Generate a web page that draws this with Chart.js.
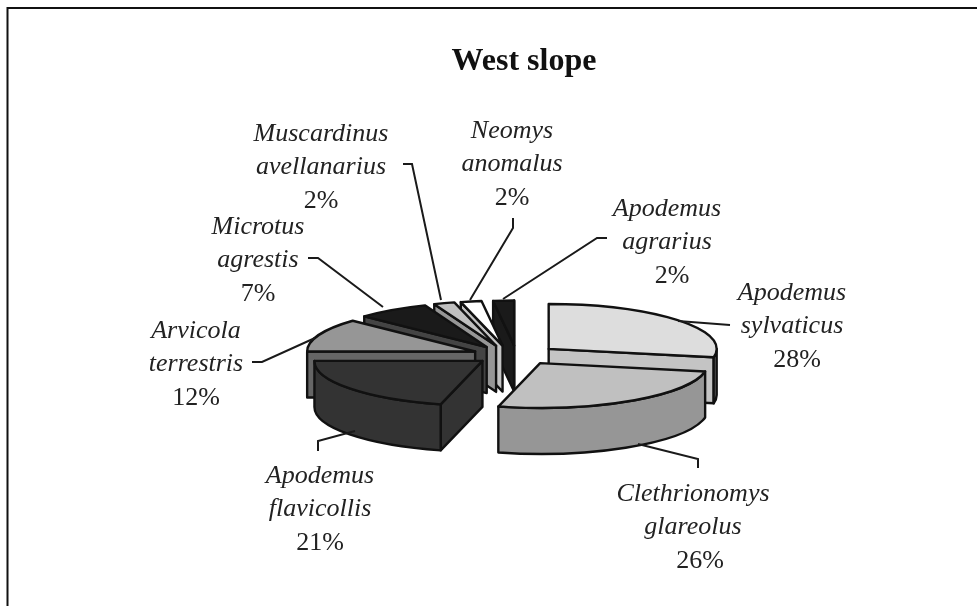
<!DOCTYPE html>
<html>
<head>
<meta charset="utf-8">
<title>West slope</title>
<script src="https://cdn.jsdelivr.net/npm/chart.js@4"></script>
<style>
html, body { margin: 0; padding: 0; background: #fff; overflow: hidden; }
canvas { display: block; filter: blur(0.4px); }
</style>
</head>
<body>
<canvas id="pie" width="977" height="606"></canvas>
<script>
const chartTitle = 'West slope';
const species = ['Apodemus sylvaticus', 'Clethrionomys glareolus', 'Apodemus flavicollis', 'Arvicola terrestris',
    'Microtus agrestis', 'Muscardinus avellanarius', 'Neomys anomalus', 'Apodemus agrarius'];
const shares = [28, 26, 21, 12, 7, 2, 2, 2];
const topColors = ['#dddddd', '#c0c0c0', '#333333', '#969696', '#1a1a1a', '#c0c0c0', '#ffffff', '#1a1a1a'];
const sideColors = ['#c4c4c4', '#969696', '#333333', '#666666', '#444444', '#969696', '#c4c4c4', '#1a1a1a'];
const wallColors = ['#7a7a7a', '#969696', '#333333', '#666666', '#444444', '#969696', '#c4c4c4', '#1a1a1a'];

// centre of each text block and the leader line that goes with it
const labelSpots = [[792, 293], [693, 494], [320, 476], [196, 331], [258, 227], [321, 134], [512, 131], [667, 209]];
const percentShift = [5, 7, 0, 0, 0, 0, 0, 5];
const leaders = [
    [[678, 321], [730, 325]],
    [[638, 444], [698, 459], [698, 468]],
    [[355, 431], [318, 441], [318, 451]],
    [[315, 338], [262, 362], [252, 362]],
    [[308, 258], [318, 258], [383, 307]],
    [[403, 164], [412, 164], [441, 300]],
    [[513, 218], [513, 228], [470, 300]],
    [[607, 238], [597, 238], [503, 299]]
];

const squash = 0.267;   // tilt of the pie
const depth = 46;       // thickness of the slices
const explodeX = 45;    // how far each slice is pulled out
const explodeY = 9.6;
const nudgeX = [-2, 0, 2, 1, -4, -6, -5, 1];   // the small back slices sit further left in the picture
const paintOrder = [7, 6, 5, 4, 3, 2, 0, 1];
const lineColor = '#111111';

function sliceGeometry(arc, i) {
    const mid = (arc.startAngle + arc.endAngle) / 2;
    return {
        x: arc.x + explodeX * Math.cos(mid) + nudgeX[i],
        y: arc.y + explodeY * Math.sin(mid),
        r: arc.outerRadius,
        start: arc.startAngle,
        end: arc.endAngle
    };
}

function fillStroke(ctx, color) {
    ctx.fillStyle = color;
    ctx.fill();
    ctx.stroke();
}

function drawCutFace(ctx, g, angle, color) {
    const rimX = g.x + g.r * Math.cos(angle);
    const rimY = g.y + g.r * squash * Math.sin(angle);
    ctx.beginPath();
    ctx.moveTo(g.x, g.y);
    ctx.lineTo(rimX, rimY);
    ctx.lineTo(rimX, rimY + depth);
    ctx.lineTo(g.x, g.y + depth);
    ctx.closePath();
    fillStroke(ctx, color);
}

function drawWall(ctx, g, color) {
    // only the part of the rim that faces the viewer
    const from = Math.max(g.start, 0);
    const to = Math.min(g.end, Math.PI);
    if (to <= from) return;
    ctx.beginPath();
    ctx.ellipse(g.x, g.y, g.r, g.r * squash, 0, from, to);
    ctx.ellipse(g.x, g.y + depth, g.r, g.r * squash, 0, to, from, true);
    ctx.closePath();
    fillStroke(ctx, color);
}

const tiltedSlices = {
    id: 'tiltedSlices',
    beforeDatasetDraw(chart) {
        const ctx = chart.ctx;
        const arcs = chart.getDatasetMeta(0).data;
        ctx.save();
        ctx.lineWidth = 2.4;
        ctx.lineJoin = 'round';
        ctx.strokeStyle = lineColor;
        paintOrder.forEach(i => {
            const arc = arcs[i];
            const g = sliceGeometry(arc, i);
            if (Math.cos(g.start) < 0) drawCutFace(ctx, g, g.start, sideColors[i]);
            if (Math.cos(g.end) > 0) drawCutFace(ctx, g, g.end, sideColors[i]);
            drawWall(ctx, g, wallColors[i]);

            // the library fills the top, flattened onto the tilted plane
            ctx.save();
            ctx.translate(g.x, g.y);
            ctx.scale(1, squash);
            ctx.translate(-arc.x, -arc.y);
            arc.draw(ctx);
            ctx.restore();

            ctx.beginPath();
            ctx.moveTo(g.x, g.y);
            ctx.ellipse(g.x, g.y, g.r, g.r * squash, 0, g.start, g.end);
            ctx.closePath();
            ctx.stroke();
        });
        ctx.restore();
        return false;
    }
};

const annotations = {
    id: 'annotations',
    afterDraw(chart) {
        const ctx = chart.ctx;
        ctx.save();

        // frame, open to the right and the bottom
        ctx.strokeStyle = lineColor;
        ctx.lineWidth = 2;
        ctx.beginPath();
        ctx.moveTo(7.5, 606);
        ctx.lineTo(7.5, 8);
        ctx.lineTo(977, 8);
        ctx.stroke();

        ctx.lineWidth = 2;
        ctx.strokeStyle = '#1a1a1a';
        leaders.forEach(points => {
            ctx.beginPath();
            points.forEach((p, n) => n ? ctx.lineTo(p[0], p[1]) : ctx.moveTo(p[0], p[1]));
            ctx.stroke();
        });

        ctx.fillStyle = '#111111';
        ctx.textAlign = 'center';
        ctx.textBaseline = 'middle';
        ctx.font = 'bold 32px "Liberation Serif"';
        ctx.fillText(chartTitle, 524, 62);

        ctx.fillStyle = '#222222';
        species.forEach((name, i) => {
            const [first, second] = name.split(' ');
            const [x, y] = labelSpots[i];
            ctx.font = 'italic 26px "Liberation Serif"';
            ctx.fillText(first, x, y);
            ctx.fillText(second, x, y + 33);
            ctx.font = '26px "Liberation Serif"';
            ctx.fillText(shares[i] + '%', x + percentShift[i], y + 67);
        });
        ctx.restore();
    }
};

new Chart(document.getElementById('pie').getContext('2d'), {
    type: 'pie',
    data: {
        labels: species,
        datasets: [{ data: shares, backgroundColor: topColors, borderWidth: 0 }]
    },
    options: {
        responsive: false,
        animation: false,
        events: [],
        radius: 168,
        layout: { padding: { left: 55, top: 104 } },
        plugins: { legend: { display: false }, tooltip: { enabled: false }, title: { display: false } }
    },
    plugins: [tiltedSlices, annotations]
});
</script>
</body>
</html>
